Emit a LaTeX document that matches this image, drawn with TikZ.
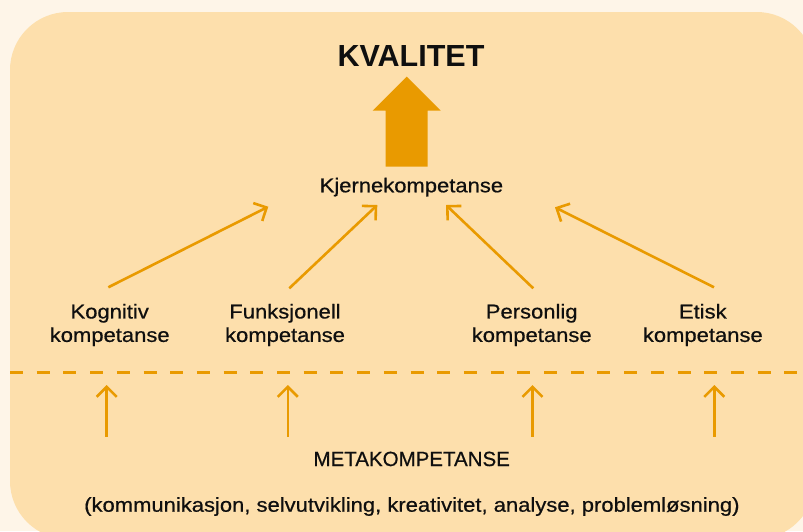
\documentclass[tikz,border=0pt]{standalone}
\usepackage{fontspec}
\setmainfont{Liberation Sans}
\newfontfamily\labfont[FakeStretch=1.1,FakeBold=0.6]{Liberation Sans}
\newfontfamily\metafont[FakeBold=0.6]{Liberation Sans}
\usetikzlibrary{arrows.meta}
\definecolor{bgc}{RGB}{254,245,232}
\definecolor{boxc}{RGB}{253,223,172}
\definecolor{orng}{RGB}{233,154,0}
\definecolor{txt}{RGB}{15,15,15}
\begin{document}
\begin{tikzpicture}[x=1pt,y=-1pt,
  lab/.style={font=\labfont\fontsize{20}{23.4}\selectfont, text=txt, align=center, inner sep=0pt},
  conn/.style={draw=orng, line width=2.6pt, -{Straight Barb[length=10pt,width=20pt]}},
  dashline/.style={draw=orng, line width=3pt, dash pattern=on 13pt off 13.7pt}
]
\useasboundingbox (0,0) rectangle (803,531);
\clip (0,0) rectangle (803,531);
\fill[bgc] (0,0) rectangle (803,531);
\fill[boxc, rounded corners=58pt] (10,12) rectangle (814.7,539);

% texts
\node[font=\bfseries\fontsize{30.5}{36}\selectfont, text=txt, anchor=base, inner sep=0pt] (kval) at (411,66.7) {KVALITET};
\node[lab, anchor=base] (kjerne) at (411.4,192.3) {Kjernekompetanse};
\node[lab] (kog) at (109.7,325) {Kognitiv\\kompetanse};
\node[lab] (funk) at (285,325) {Funksjonell\\kompetanse};
\node[lab] (pers) at (531.7,325) {Personlig\\kompetanse};
\node[lab] (etisk) at (702.8,325) {Etisk\\kompetanse};
\node[font=\metafont\fontsize{20.5}{24}\selectfont, text=txt, anchor=base, inner sep=0pt] (meta) at (411.7,466) {METAKOMPETANSE};
\node[lab, anchor=base] (list) at (411.9,511.7) {(kommunikasjon, selvutvikling, kreativitet, analyse, problemløsning)};

% big arrow to KVALITET
\fill[orng] (406.7,76.7) -- (440.7,110.7) -- (427.7,110.7) -- (427.7,166.7)
  -- (385.7,166.7) -- (385.7,110.7) -- (372.7,110.7) -- cycle;

% diagonal connectors
\coordinate (s1) at (108.3,287.3); \coordinate (t1) at (268.3,206.7);
\coordinate (s2) at (289.3,288.3); \coordinate (t2) at (377.3,205);
\coordinate (s3) at (533.3,288.3); \coordinate (t3) at (446,205);
\coordinate (s4) at (714,287.3);   \coordinate (t4) at (555,207.3);
\draw[conn] (s1) -- (t1);
\draw[conn] (s2) -- (t2);
\draw[conn] (s3) -- (t3);
\draw[conn] (s4) -- (t4);

% dashed separator
\coordinate (dl) at (10,372.3); \coordinate (dr) at (815,372.3);
\draw[dashline] (dl) -- (dr);

% vertical connectors from meta level
\foreach \i/\x in {1/106.7,2/287.8,3/532.5,4/714.3}{
  \coordinate (m\i) at (\x,436.7);
  \coordinate (u\i) at (\x,385);
  \draw[conn] (m\i) -- (u\i);
}
\end{tikzpicture}
\end{document}
